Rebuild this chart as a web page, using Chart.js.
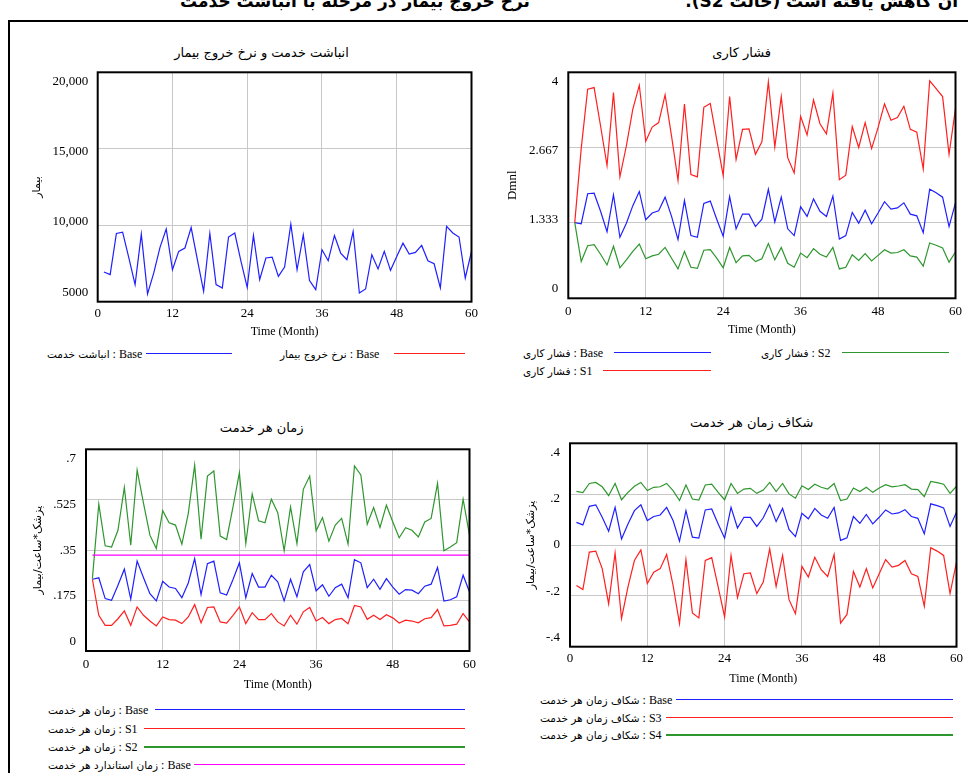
<!DOCTYPE html>
<html>
<head>
<meta charset="utf-8">
<script src="https://cdn.jsdelivr.net/npm/chart.js@4.4.1/dist/chart.umd.min.js"></script>
<style>
body { margin:0; width:968px; height:773px; background:#fff; position:relative; overflow:hidden; font-family:"Liberation Serif", "DejaVu Sans", serif; color:#000; }
canvas { position:absolute; }
.frameTop { position:absolute; left:9px; top:20px; width:959px; height:2px; background:#000; }
.frameLeft { position:absolute; left:8px; top:20px; width:2px; height:753px; background:#000; }
.topTxt { position:absolute; top:-9px; font-family:"DejaVu Sans", sans-serif; font-weight:bold; font-size:17px; direction:rtl; white-space:nowrap; }
.ttl { position:absolute; font-family:"DejaVu Sans", sans-serif; font-size:13px; transform:translate(-50%,-50%); white-space:nowrap; direction:rtl; }
.leg { position:absolute; height:16px; white-space:nowrap; }
.leg .txt { position:absolute; left:0; top:0; line-height:16px; }
.leg .fa { font-family:"DejaVu Sans", sans-serif; font-size:10.5px; }
.leg .run { font-family:"Liberation Serif", serif; font-size:12px; }
.leg .ln { position:absolute; right:0; top:8px; }
</style>
</head>
<body>
<div class="frameTop"></div>
<div class="frameLeft"></div>
<div class="topTxt" style="right:438px;">نرخ خروج بیمار در مرحله با انباشت خدمت</div>
<div class="topTxt" style="right:10px;">آن کاهش یافته است (حالت S2).</div>

<canvas id="cTL" width="470" height="278" style="left:12px;top:64px;"></canvas>
<canvas id="cTR" width="472" height="276" style="left:495px;top:64px;"></canvas>
<canvas id="cBL" width="470" height="252" style="left:12px;top:441px;"></canvas>
<canvas id="cBR" width="472" height="252" style="left:495px;top:435px;"></canvas>

<script>
// time axis (months)
const months = [1,2,3,4,5,6,7,8,9,10,11,12,13,14,15,16,17,18,19,20,21,22,23,24,25,26,27,28,29,30,
                31,32,33,34,35,36,37,38,39,40,41,42,43,44,45,46,47,48,49,50,51,52,53,54,55,56,57,58,59,60];
const xTicks = [0, 12, 24, 36, 48, 60];
const xLabels = ['0', '12', '24', '36', '48', '60'];

// top left : انباشت خدمت (Base)
const accBase = [6940,6770,9460,9550,7860,6120,9420,5510,6880,8550,9750,7090,8290,8510,9850,7750,5680,9460,6120,5900,
                 9230,9490,7630,5940,9330,6440,7860,7920,6660,7270,10070,7090,9370,6380,5790,8400,7680,9330,8180,7750,
                 9590,5570,5830,8070,7140,8290,7050,7960,8830,8120,8220,8680,7680,7480,5900,9920,9490,9230,6550,8290];
const accTicks = [5000, 10000, 15000, 20000];
const accLabels = ['5000', '10,000', '15,000', '20,000'];

// top right : فشار کاری
const presBase = [1.34,1.32,1.85,1.86,1.54,1.18,1.83,1.08,1.33,1.64,1.89,1.39,1.51,1.55,1.79,1.45,1.04,1.73,1.11,1.08,
                  1.68,1.72,1.40,1.10,1.80,1.23,1.49,1.49,1.27,1.40,1.93,1.35,1.79,1.23,1.11,1.62,1.45,1.76,1.54,1.45,
                  1.81,1.05,1.11,1.52,1.33,1.56,1.32,1.51,1.71,1.58,1.60,1.69,1.49,1.46,1.16,1.93,1.87,1.79,1.27,1.69];
const presS1 = [1.34,2.65,3.70,3.73,3.05,2.35,3.64,2.15,2.70,3.35,3.77,2.78,3.03,3.11,3.60,2.87,2.09,3.44,2.19,2.15,
                3.38,3.45,2.81,2.17,3.57,2.46,2.99,3.00,2.55,2.77,3.83,2.68,3.57,2.49,2.22,3.22,2.89,3.51,3.09,2.91,
                3.63,2.10,2.18,3.04,2.67,3.11,2.65,3.02,3.44,3.15,3.20,3.40,2.99,2.94,2.29,3.85,3.71,3.57,2.55,3.36];
const presS2 = [1.34,0.65,0.93,0.95,0.78,0.59,0.92,0.54,0.68,0.83,0.96,0.70,0.75,0.78,0.90,0.71,0.52,0.83,0.55,0.53,
                0.85,0.86,0.71,0.54,0.90,0.63,0.75,0.76,0.65,0.70,0.97,0.68,0.90,0.62,0.55,0.80,0.72,0.88,0.78,0.73,
                0.90,0.52,0.55,0.77,0.67,0.79,0.66,0.76,0.86,0.80,0.81,0.86,0.75,0.73,0.57,0.98,0.94,0.89,0.64,0.82];
const presTicks = [0, 4/3, 8/3, 4];
const presLabels = ['0', '1.333', '2.667', '4'];

// bottom left : زمان هر خدمت
const timeBase = [0.249,0.254,0.182,0.176,0.228,0.284,0.180,0.312,0.254,0.199,0.174,0.242,0.222,0.217,0.185,0.236,0.321,0.196,0.303,0.312,
                  0.202,0.194,0.248,0.306,0.185,0.269,0.222,0.222,0.263,0.240,0.174,0.249,0.188,0.275,0.300,0.209,0.230,0.190,0.220,0.232,
                  0.185,0.317,0.306,0.220,0.249,0.214,0.251,0.222,0.197,0.213,0.211,0.199,0.225,0.232,0.290,0.173,0.178,0.188,0.263,0.205];
const timeS1 = [0.249,0.124,0.089,0.089,0.112,0.139,0.089,0.153,0.124,0.104,0.087,0.118,0.109,0.107,0.095,0.118,0.161,0.098,0.151,0.153,
                0.101,0.097,0.124,0.153,0.095,0.133,0.109,0.109,0.130,0.101,0.087,0.124,0.093,0.136,0.151,0.104,0.116,0.095,0.109,0.113,
                0.095,0.158,0.153,0.110,0.124,0.109,0.126,0.115,0.097,0.107,0.104,0.098,0.112,0.116,0.144,0.087,0.089,0.093,0.130,0.101];
const timeS2 = [0.251,0.510,0.365,0.361,0.419,0.568,0.367,0.628,0.512,0.402,0.356,0.487,0.445,0.437,0.371,0.477,0.645,0.388,0.607,0.625,
                0.399,0.387,0.500,0.619,0.373,0.545,0.452,0.445,0.527,0.480,0.348,0.500,0.373,0.561,0.607,0.417,0.463,0.381,0.437,0.460,
                0.371,0.642,0.611,0.440,0.498,0.429,0.506,0.448,0.393,0.428,0.419,0.396,0.448,0.460,0.582,0.348,0.361,0.376,0.527,0.402];
const timeStd = [0.333,0.333,0.333,0.333,0.333,0.333,0.333,0.333,0.333,0.333,0.333,0.333,0.333,0.333,0.333,0.333,0.333,0.333,0.333,0.333,
                 0.333,0.333,0.333,0.333,0.333,0.333,0.333,0.333,0.333,0.333,0.333,0.333,0.333,0.333,0.333,0.333,0.333,0.333,0.333,0.333,
                 0.333,0.333,0.333,0.333,0.333,0.333,0.333,0.333,0.333,0.333,0.333,0.333,0.333,0.333,0.333,0.333,0.333,0.333,0.333,0.333];
const timeTicks = [0, 0.175, 0.35, 0.525, 0.7];
const timeLabels = ['0', '.175', '.35', '.525', '.7'];

// bottom right : شکاف زمان هر خدمت
const gapBase = [0.089,0.079,0.152,0.158,0.109,0.054,0.148,0.024,0.083,0.135,0.158,0.096,0.112,0.118,0.148,0.096,0.015,0.135,0.031,0.027,
                 0.138,0.142,0.083,0.027,0.148,0.067,0.109,0.109,0.073,0.107,0.159,0.092,0.144,0.061,0.033,0.125,0.103,0.144,0.118,0.105,
                 0.148,0.018,0.028,0.112,0.085,0.120,0.083,0.109,0.138,0.122,0.126,0.139,0.112,0.105,0.044,0.162,0.155,0.146,0.073,0.129];
const gapS3 = [-0.159,-0.175,-0.028,-0.024,-0.093,-0.231,-0.032,-0.289,-0.165,-0.061,-0.019,-0.152,-0.107,-0.093,-0.037,-0.159,-0.309,-0.058,-0.267,-0.287,
               -0.061,-0.050,-0.165,-0.283,-0.041,-0.207,-0.113,-0.110,-0.191,-0.146,-0.015,-0.163,-0.041,-0.215,-0.270,-0.084,-0.126,-0.048,-0.097,-0.124,
               -0.037,-0.307,-0.273,-0.104,-0.165,-0.093,-0.169,-0.113,-0.057,-0.087,-0.080,-0.061,-0.113,-0.124,-0.241,-0.011,-0.024,-0.041,-0.191,-0.067];
const gapS4 = [0.211,0.206,0.242,0.246,0.229,0.194,0.242,0.178,0.207,0.231,0.246,0.214,0.227,0.229,0.242,0.214,0.175,0.236,0.181,0.177,
               0.236,0.239,0.207,0.178,0.242,0.203,0.220,0.223,0.203,0.216,0.246,0.210,0.242,0.201,0.184,0.233,0.218,0.239,0.227,0.220,
               0.242,0.175,0.181,0.224,0.210,0.227,0.207,0.224,0.237,0.229,0.232,0.237,0.220,0.218,0.190,0.250,0.245,0.239,0.203,0.231];
const gapTicks = [-0.4, -0.2, 0, 0.2, 0.4];
const gapLabels = ['-.4', '-.2', '0', '.2', '.4'];

const BLUE = '#1f1fff', RED = '#ff1f1f', GREEN = '#2e962e', MAGENTA = '#ff00ff';

Chart.defaults.font.family = '"Liberation Serif", "DejaVu Sans", serif';
Chart.defaults.color = '#000';

// black box around the plot
const framePlugin = {
    id: 'framePlugin',
    afterDatasetsDraw(chart) {
        const a = chart.chartArea, ctx = chart.ctx;
        ctx.save();
        ctx.strokeStyle = '#000';
        ctx.lineWidth = 2;
        ctx.strokeRect(a.left, a.top, a.right - a.left, a.bottom - a.top);
        ctx.restore();
    }
};

// vensim keeps the first/last y label inside the box
const yLabelPlugin = {
    id: 'yLabelPlugin',
    afterDraw(chart) {
        const o = chart.options.plugins.yLabelPlugin;
        const s = chart.scales.y, a = chart.chartArea, ctx = chart.ctx;
        const h = a.bottom - a.top;
        ctx.save();
        ctx.font = '13px "Liberation Serif"';
        ctx.fillStyle = '#000';
        ctx.textAlign = 'right';
        ctx.textBaseline = 'middle';
        o.values.forEach((v, i) => {
            const p = s.getPixelForValue(v);
            const y = a.top + o.inset + (p - a.top) * (h - 2 * o.inset) / h;
            ctx.fillText(o.labels[i], a.left - o.pad, y);
        });
        ctx.restore();
    }
};

function series(vals, color, width) {
    return {
        data: vals.map((v, i) => ({ x: months[i], y: v })),
        borderColor: color,
        borderWidth: width || 1.2,
        pointRadius: 0,
        fill: false,
        tension: 0
    };
}

function makePanel(id, box, yMin, yMax, yTicks, yLabels, yTitle, yTitleFont, datasets) {
    return new Chart(document.getElementById(id), {
        type: 'line',
        data: { datasets: datasets },
        plugins: [framePlugin, yLabelPlugin],
        options: {
            responsive: false,
            animation: false,
            devicePixelRatio: 1,
            layout: { padding: { left: 0, top: box.padTop, right: box.padRight, bottom: 0 } },
            plugins: {
                legend: { display: false },
                tooltip: { enabled: false },
                yLabelPlugin: { values: yTicks, labels: yLabels, inset: 9.5, pad: box.yPad }
            },
            scales: {
                x: {
                    type: 'linear', min: 0, max: 60,
                    afterBuildTicks: s => { s.ticks = xTicks.map(v => ({ value: v })); },
                    afterFit: s => { s.height = box.xH; },
                    grid: { color: '#c8c8c8', lineWidth: 1, drawTicks: false },
                    border: { display: false },
                    ticks: { padding: box.xPad, font: { size: 13 }, maxRotation: 0, autoSkip: false,
                             callback: (v, i) => xLabels[i] },
                    title: { display: true, text: 'Time (Month)', font: { size: 12 },
                             padding: { top: 0, bottom: box.xTitleB } }
                },
                y: {
                    type: 'linear', min: yMin, max: yMax,
                    afterBuildTicks: s => { s.ticks = yTicks.map(v => ({ value: v })); },
                    afterFit: s => { s.width = box.yW; },
                    grid: { color: '#c8c8c8', lineWidth: 1, drawTicks: false },
                    border: { display: false },
                    ticks: { display: false },
                    title: { display: true, text: yTitle, font: yTitleFont,
                             padding: { top: box.yTitleT, bottom: 0 } }
                }
            }
        }
    });
}

const faTitle = { family: '"DejaVu Sans", sans-serif', size: 11 };

makePanel('cTL', { padTop: 8.3, padRight: 8.7, yW: 85.7, xH: 40.3, yPad: 9.5, xPad: 4, xTitleB: 2.6, yTitleT: 19 },
    5000, 20000, accTicks, accLabels, 'بیمار', faTitle,
    [series(accBase, BLUE)]);

makePanel('cTR', { padTop: 8.3, padRight: 9.3, yW: 73.3, xH: 41.7, yPad: 10, xPad: 5, xTitleB: 2.6, yTitleT: 10 },
    0, 4, presTicks, presLabels, 'Dmnl', { size: 13 },
    [series(presS2, GREEN), series(presS1, RED), series(presBase, BLUE)]);

makePanel('cBL', { padTop: 8.3, padRight: 8.7, yW: 74, xH: 42, yPad: 10, xPad: 6, xTitleB: 0.5, yTitleT: 20 },
    0, 0.7, timeTicks, timeLabels, 'پزشک*ساعت/بیمار', faTitle,
    [series(timeStd, MAGENTA), series(timeS2, GREEN), series(timeS1, RED), series(timeBase, BLUE)]);

makePanel('cBR', { padTop: 8.3, padRight: 6.3, yW: 75, xH: 40.3, yPad: 10, xPad: 4, xTitleB: 1.3, yTitleT: 29.5 },
    -0.4, 0.4, gapTicks, gapLabels, 'پزشک*ساعت/بیمار', faTitle,
    [series(gapS4, GREEN), series(gapS3, RED), series(gapBase, BLUE)]);

// titles
const titles = [
    ['انباشت خدمت و نرخ خروج بیمار', 261.5, 51.7],
    ['فشار کاری', 741.7, 51.7],
    ['زمان هر خدمت', 261.7, 427.3],
    ['شکاف زمان هر خدمت', 751.7, 422.3]
];
titles.forEach(t => {
    const d = document.createElement('div');
    d.className = 'ttl';
    d.textContent = t[0];
    d.style.left = t[1] + 'px';
    d.style.top = t[2] + 'px';
    document.body.appendChild(d);
});

// legends : [variable, run, colour, line width, text left, line start, line end, y]
const legendItems = [
    ['انباشت خدمت', 'Base', BLUE, 1, 47, 146, 232, 353],
    ['نرخ خروج بیمار', 'Base', RED, 1, 280, 394, 465, 353],
    ['فشار کاری', 'Base', BLUE, 1, 523, 614, 711, 352],
    ['فشار کاری', 'S2', GREEN, 1, 761, 842, 949, 352],
    ['فشار کاری', 'S1', RED, 1, 523, 603, 711, 370],
    ['زمان هر خدمت', 'Base', BLUE, 1, 48, 155, 465, 709],
    ['زمان هر خدمت', 'S1', RED, 1, 48, 144, 465, 728],
    ['زمان هر خدمت', 'S2', GREEN, 2, 48, 144, 465, 746],
    ['زمان استاندارد هر خدمت', 'Base', MAGENTA, 1, 48, 194, 465, 764],
    ['شکاف زمان هر خدمت', 'Base', BLUE, 1, 540, 676, 953, 699],
    ['شکاف زمان هر خدمت', 'S3', RED, 1, 540, 666, 953, 717],
    ['شکاف زمان هر خدمت', 'S4', GREEN, 2, 540, 666, 953, 734]
];
legendItems.forEach(it => {
    const row = document.createElement('div');
    row.className = 'leg';
    row.style.left = it[4] + 'px';
    row.style.top = (it[7] - 8) + 'px';
    row.style.width = (it[6] - it[4]) + 'px';
    row.innerHTML = '<span class="txt"><span class="fa">' + it[0] + '</span><span class="run">&nbsp;: ' + it[1] + '</span></span>' +
        '<div class="ln" style="width:' + (it[6] - it[5]) + 'px;height:' + it[3] + 'px;background:' + it[2] + ';"></div>';
    document.body.appendChild(row);
});
</script>
</body>
</html>
